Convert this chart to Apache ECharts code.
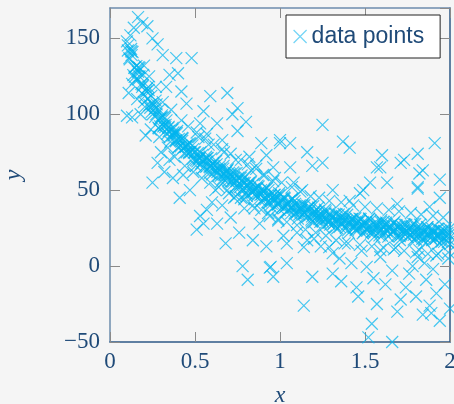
<!DOCTYPE html>
<html>
<head>
<meta charset="utf-8">
<script src="https://cdn.jsdelivr.net/npm/echarts@6/dist/echarts.min.js"></script>
<style>
html,body{margin:0;padding:0;background:#f5f5f5;}
#chart{width:454px;height:404px;}
</style>
</head>
<body>
<div id="chart"></div>
<script>
// ---- data ----
const seriesName = 'data points';
const xTicks = [0, 0.5, 1, 1.5, 2];
const yTicks = [-50, 0, 50, 100, 150];

const bandPoints = [
[0.100,148],[0.114,137],[0.127,139],[0.132,141],[0.146,131],[0.151,123],[0.168,131],[0.173,125],[0.189,118],[0.195,126],
[0.200,108],[0.214,115],[0.227,116],[0.232,106],[0.246,107],[0.251,100],[0.268,109],[0.273,100],[0.289,103],[0.295,92],
[0.300,98],[0.314,92],[0.327,93],[0.332,96],[0.346,89],[0.351,85],[0.368,91],[0.373,88],[0.389,83],[0.395,89],
[0.400,78],[0.414,83],[0.427,84],[0.432,78],[0.446,79],[0.451,75],[0.468,81],[0.473,75],[0.489,77],[0.495,70],
[0.500,75],[0.514,69],[0.527,71],[0.532,75],[0.546,69],[0.551,65],[0.568,71],[0.573,69],[0.589,65],[0.595,71],
[0.600,60.5],[0.614,66],[0.627,67],[0.632,62],[0.646,63],[0.651,59.5],[0.668,66],[0.673,60],[0.689,63],[0.695,56],
[0.700,61.5],[0.714,56],[0.727,58],[0.732,61],[0.746,56],[0.751,52],[0.768,58],[0.773,56],[0.789,52],[0.795,58.5],
[0.800,48],[0.814,53],[0.827,55],[0.832,49],[0.846,50.5],[0.851,47],[0.868,53],[0.873,48],[0.889,50],[0.895,43.5],
[0.900,49.5],[0.914,44],[0.927,46.4],[0.932,50],[0.946,44],[0.951,41],[0.968,47],[0.973,45],[0.989,41],[0.995,48],
[1.000,37],[1.014,43],[1.027,44.5],[1.032,39],[1.046,40.7],[1.051,37.3],[1.068,44],[1.073,38.5],[1.089,41],[1.095,34.7],
[1.100,39.5],[1.114,34],[1.127,36.8],[1.132,40.5],[1.146,35],[1.151,31.8],[1.168,38.4],[1.173,36],[1.189,32.7],[1.195,39.4],
[1.200,29],[1.214,34.7],[1.227,36.4],[1.232,31],[1.246,32.8],[1.251,29.5],[1.268,36],[1.273,31],[1.289,33.6],[1.295,27.3],
[1.300,33],[1.314,27.8],[1.327,30.5],[1.332,34.2],[1.346,29],[1.351,25.8],[1.368,32.5],[1.373,30.2],[1.389,27],[1.395,33.8],
[1.400,23.5],[1.414,29.3],[1.427,31.1],[1.432,25.9],[1.446,27.7],[1.451,24.5],[1.468,31.3],[1.473,26.1],[1.489,28.9],[1.495,22.7],
[1.500,28.5],[1.514,23.4],[1.527,26.2],[1.532,30],[1.546,24.9],[1.551,21.8],[1.568,28.6],[1.573,26.5],[1.589,23.3],[1.595,30.2],
[1.600,20],[1.614,25.9],[1.627,27.8],[1.632,22.6],[1.646,24.5],[1.651,21.4],[1.668,28.3],[1.673,23.1],[1.689,26],[1.695,19.9],
[1.700,25.8],[1.714,20.7],[1.727,23.5],[1.732,27.4],[1.746,22.3],[1.751,19.1],[1.768,26],[1.773,23.9],[1.789,20.8],[1.795,27.6],
[1.800,17.5],[1.814,23.4],[1.827,25.2],[1.832,20],[1.846,21.9],[1.851,18.8],[1.868,25.6],[1.873,20.5],[1.889,23.3],[1.895,17.2],
[1.900,23],[1.914,17.9],[1.927,20.7],[1.932,24.5],[1.946,19.4],[1.951,16.2],[1.968,23.1],[1.973,21],[1.989,17.8],[1.995,24.6],
[2.000,14.5]
];

const bandPoints2 = [
[0.105,142],[0.125,141.5],[0.145,124.6],[0.165,128],[0.185,120],[0.205,112],[0.225,118],[0.245,101.6],[0.265,103.8],[0.285,91.2],
[0.305,99.3],[0.325,91.5],[0.345,91.7],[0.365,86.2],[0.385,87.8],[0.405,78.5],[0.425,82.5],[0.445,78.5],[0.465,74.5],[0.485,79.5],
[0.505,69.6],[0.525,72],[0.545,64.4],[0.565,72],[0.585,65.6],[0.605,67.2],[0.625,63],[0.645,65.8],[0.665,57.6],[0.685,62.4],
[0.705,59.2],[0.725,55.8],[0.745,61.4],[0.765,52.1],[0.785,54.9],[0.805,47.7],[0.825,55.5],[0.845,49.3],[0.865,51.1],[0.885,46.9],
[0.905,50.3],[0.925,42.1],[0.945,47],[0.965,44],[0.985,41],[1.005,47.1],[1.025,38.3],[1.045,41.5],[1.065,34.7],[1.085,42.9],
[1.105,36.3],[1.125,38.6],[1.145,35],[1.165,38.3],[1.185,30.6],[1.205,35.9],[1.225,33.3],[1.245,30.7],[1.265,37.1],[1.285,28.5],
[1.305,31.9],[1.325,25.4],[1.345,33.9],[1.365,28.4],[1.385,30.9],[1.405,27.4],[1.425,31],[1.445,23.6],[1.465,29.2],[1.485,26.8],
[1.505,24.4],[1.525,31.1],[1.545,22.8],[1.565,26.5],[1.585,20.2],[1.605,28.9],[1.625,23.7],[1.645,26.5],[1.665,23.2],[1.685,27],
[1.705,19.7],[1.725,25.5],[1.745,23.3],[1.765,21],[1.785,27.8],[1.805,19.4],[1.825,23.1],[1.845,16.8],[1.865,25.5],[1.885,20.2],
[1.905,22.9],[1.925,19.6],[1.945,23.3],[1.965,16],[1.985,21.7]
];

const bandPoints3 = [
[0.105,145.4],[0.116,136.2],[0.124,143],[0.137,125.8],[0.143,130.6],[0.155,131.7],[0.166,123.1],[0.174,130.5],[0.187,113.9],[0.193,119.3],
[0.205,104.9],[0.216,116.7],[0.224,110.5],[0.237,104.3],[0.243,112.1],[0.255,106.1],[0.266,98.3],[0.274,106.5],[0.287,90.7],[0.293,96.9],
[0.305,97.9],[0.316,92.6],[0.324,97.7],[0.337,87.2],[0.343,91],[0.355,81.9],[0.366,89.8],[0.374,86],[0.387,82.2],[0.393,87.5],
[0.405,83.8],[0.416,78.9],[0.424,84.4],[0.437,74.3],[0.443,78.5],[0.455,80.1],[0.466,75.2],[0.474,80.7],[0.487,70.6],[0.493,74.8],
[0.505,66.1],[0.516,74.4],[0.524,71],[0.537,67.6],[0.543,73.3],[0.555,70],[0.566,65.4],[0.574,71.2],[0.587,61.4],[0.593,65.9],
[0.605,67.8],[0.616,63.3],[0.624,69.2],[0.637,59.5],[0.643,64.1],[0.655,55.7],[0.666,64.2],[0.674,61],[0.687,57.8],[0.693,63.7],
[0.705,60.5],[0.716,55.9],[0.724,61.7],[0.737,51.9],[0.743,56.4],[0.755,58.3],[0.766,53.8],[0.774,59.7],[0.787,50],[0.793,54.6],
[0.805,46.2],[0.816,54.7],[0.824,51.5],[0.837,48.3],[0.843,54.2],[0.855,51],[0.866,46.5],[0.874,52.4],[0.887,42.7],[0.893,47.5],
[0.905,49.7],[0.916,45.3],[0.924,51.3],[0.937,41.7],[0.943,46.4],[0.955,38.1],[0.966,46.7],[0.974,43.6],[0.987,40.4],[0.993,46.5],
[1.005,43.4],[1.016,39.1],[1.024,45.2],[1.037,35.7],[1.043,40.5],[1.055,42.7],[1.066,38.4],[1.074,44.5],[1.087,35],[1.093,39.8],
[1.105,31.3],[1.116,40],[1.124,37],[1.137,34],[1.143,40.1],[1.155,37.1],[1.166,32.8],[1.174,38.9],[1.187,29.4],[1.193,34.2],
[1.205,36.5],[1.216,32.3],[1.224,38.5],[1.237,29.1],[1.243,34],[1.255,25.9],[1.266,34.7],[1.274,31.8],[1.287,28.9],[1.293,35.1],
[1.305,32.2],[1.316,28],[1.324,34.3],[1.337,24.9],[1.343,29.9],[1.355,32.2],[1.366,28.1],[1.374,34.3],[1.387,25],[1.393,29.9],
[1.405,21.9],[1.416,30.8],[1.424,28],[1.437,25.2],[1.443,31.5],[1.455,28.7],[1.466,24.6],[1.474,30.9],[1.487,21.6],[1.493,26.6],
[1.505,29],[1.516,25],[1.524,31.3],[1.537,22.1],[1.543,27.1],[1.555,19.2],[1.566,28.1],[1.574,25.4],[1.587,22.6],[1.593,29],
[1.605,26.2],[1.616,22.2],[1.624,28.6],[1.637,19.4],[1.643,24.5],[1.655,26.9],[1.666,22.9],[1.674,29.3],[1.687,20.1],[1.693,25.2],
[1.705,17.2],[1.716,26.2],[1.724,23.5],[1.737,20.7],[1.743,27.1],[1.755,24.4],[1.766,20.3],[1.774,26.7],[1.787,17.5],[1.793,22.6],
[1.805,25],[1.816,20.9],[1.824,27.3],[1.837,18],[1.843,23.1],[1.855,15.1],[1.866,24.1],[1.874,21.3],[1.887,18.6],[1.893,24.9],
[1.905,22.2],[1.916,18.1],[1.924,24.5],[1.937,15.2],[1.943,20.3],[1.955,22.7],[1.966,18.7],[1.974,25],[1.987,15.8],[1.993,20.8]
];

const haloPoints = [
[0.13,120],[0.16,110],[0.2,132],[0.23,125],[0.27,118],[0.29,85],[0.31,108],[0.34,78],[0.36,103],[0.38,72],
[0.42,96],[0.44,66],[0.46,92],[0.49,62],[0.51,88],[0.54,58],[0.56,84],[0.59,55],[0.61,80],[0.64,52],
[0.66,77],[0.69,50],[0.71,74],[0.74,46],[0.77,70],[0.79,44],[0.81,67],[0.84,40],[0.86,64],[0.89,37],
[0.91,60],[0.94,33],[0.96,56],[0.99,31],[1.01,55],[1.04,29],[1.07,52],[1.1,27],[1.13,50],[1.15,24],
[1.18,46],[1.21,22],[1.23,45],[1.27,20],[1.29,43],[1.33,17],[1.36,42],[1.4,15],[1.43,40],[1.47,14],
[1.5,39],[1.54,13],[1.57,38],[1.61,12],[1.64,37],[1.67,11],[1.7,36],[1.73,10],[1.77,35],[1.8,9],
[1.83,34],[1.87,8],[1.9,33],[1.93,8],[1.96,32],[1.99,9]
];

const outlierPoints = [
[0.165,164],[0.19,160],[0.22,158],[0.14,157],[0.12,152],[0.25,150],[0.28,146],[0.31,139],[0.39,137],[0.48,137],
[0.40,127],[0.35,126],[0.33,118],[0.45,107],[0.42,115],[0.53,94],[0.59,112],[0.69,114],[0.75,104],[0.63,94],
[0.75,89],[0.57,87],[0.66,83],[0.89,81],[1.0,81],[0.96,65],[0.82,72],[0.86,66],[0.92,73],[0.8,95],[0.72,100],[0.55,102],
[0.11,114],[0.13,98],[0.10,99],[0.21,86],[0.18,100],[0.24,90],[0.25,55],[0.28,68],[0.30,75],[0.32,62],[0.35,70],
[0.37,58],[0.41,45],[0.47,50],[0.43,60],[0.51,24],[0.55,28],[0.57,37],[0.53,33],[0.63,28],[0.60,42],[0.68,15],
[0.66,40],[0.71,32],[0.76,22],[0.78,0],[0.81,-9],[0.84,17],[0.92,13],[0.94,-1],[0.96,-7],[0.88,28],[0.73,45],[0.79,38],
[1.06,65],[1.19,66],[1.25,68],[1.59,65],[1.71,68],[1.84,63],[1.08,55],[1.31,50],[1.53,55],[1.63,55],[1.81,52],
[1.94,45],[1.41,43],[1.69,41],[1.88,39],[1.12,49],[1.47,48],
[1.16,17],[1.24,13],[1.31,8.5],[1.04,15],[1.59,10.5],[1.82,10.5],[1.92,7],
[0.945,-0.5],[1.04,2],[1.19,-7],[1.31,-5],[1.45,-14],[1.66,-3],[1.76,-5],[1.86,-9],[1.92,-18],[1.59,6],[1.51,-0.5],
[1.14,12.5],[1.29,12.5],[1.81,6],
[1.14,-26],[1.54,-38],[1.52,-47],[1.66,-50],[1.84,-32],[1.88,-26],[1.89,-31],[1.94,-36],[1.71,-22],[2.0,-28],
[1.25,93],[1.41,78],[1.91,81],[1.81,74],[1.37,82],[1.73,70],[1.6,73],
[1.0,83],[1.06,81],[1.16,75],[1.57,65],[1.82,61],[1.94,57],[1.81,51],[1.49,50],
[1.02,20],[1.1,22],[1.2,18],[1.35,5],[1.38,15],[1.42,2],[1.48,10],[1.55,-8],[1.62,-12],[1.68,12],[1.74,-14],
[1.78,0],[1.85,2],[1.9,-2],[1.97,-12],[1.99,5],[1.46,-20],[1.36,-10],[1.57,-25],[1.69,-30],[1.8,-20],
[0.52,85],[0.58,80],[0.62,50],[0.67,75],[0.7,48],[0.74,70],[0.77,45],[0.83,63],[0.85,38],[0.9,60],[0.93,35],[0.97,58],[0.99,30]
];

// ---- styles ----
const markerColor = '#00b4ef';
const labelColor = '#1f4a78';
const serif = '"Liberation Serif", "DejaVu Serif", serif';
const crossPath = 'path://M0,0L10,10M10,0L0,10';

const chart = echarts.init(document.getElementById('chart'), null, {renderer: 'canvas'});

const tickStyle = {show: true, inside: true, length: 10, lineStyle: {color: '#8a8a8a', width: 1}};

const option = {
  backgroundColor: '#f5f5f5',
  animation: false,
  grid: {left: 110, right: 4, top: 8, bottom: 62, containLabel: false, outerBoundsMode: 'none'},
  legend: {
    data: [seriesName],
    left: 286, top: 15,
    padding: [9, 16, 9, 7],
    backgroundColor: '#ffffff',
    borderColor: '#222222',
    borderWidth: 1,
    borderRadius: 0,
    icon: crossPath,
    itemWidth: 13, itemHeight: 13,
    itemStyle: {color: 'rgba(0,0,0,0)', borderColor: '#3cc3f2', borderWidth: 1.2},
    textStyle: {fontFamily: '"Liberation Sans", Arial, sans-serif', fontSize: 23, color: labelColor, lineHeight: 25, padding: [0,0,0,0]}
  },
  xAxis: [
    {
      type: 'value', min: 0, max: 2, interval: 0.5, position: 'bottom',
      name: 'x', nameLocation: 'middle', nameGap: 42,
      nameTextStyle: {fontFamily: serif, fontStyle: 'italic', fontSize: 24, color: labelColor},
      axisLine: {show: true, onZero: false, lineStyle: {color: '#2e5886', width: 1.5}},
      axisTick: tickStyle,
      splitLine: {show: false},
      axisLabel: {fontFamily: serif, fontSize: 23, color: labelColor, margin: 8,
        formatter: v => xTicks.indexOf(v) >= 0 ? String(v) : ''}
    },
    {
      type: 'value', min: 0, max: 2, interval: 0.5, position: 'top',
      axisLine: {show: true, onZero: false, lineStyle: {color: '#6d8cad', width: 1.5}},
      axisTick: tickStyle, splitLine: {show: false}, axisLabel: {show: false}
    }
  ],
  yAxis: [
    {
      type: 'value', min: -50, max: 170, interval: 50, position: 'left',
      name: 'y', nameLocation: 'middle', nameGap: 84, nameRotate: 90,
      nameTextStyle: {fontFamily: serif, fontStyle: 'italic', fontSize: 24, color: labelColor},
      axisLine: {show: true, onZero: false, lineStyle: {color: '#6d8cad', width: 1.5}},
      axisTick: tickStyle, splitLine: {show: false},
      axisLabel: {fontFamily: serif, fontSize: 23, color: labelColor, margin: 10, showMaxLabel: false,
        formatter: v => yTicks.indexOf(v) >= 0 ? String(v).replace('-', '\u2212') : ''}
    },
    {
      type: 'value', min: -50, max: 170, interval: 50, position: 'right',
      axisLine: {show: true, onZero: false, lineStyle: {color: '#2e5886', width: 1.5}},
      axisTick: tickStyle, splitLine: {show: false}, axisLabel: {show: false}
    }
  ],
  series: [
    {
      name: seriesName, type: 'scatter', xAxisIndex: 0, yAxisIndex: 0,
      symbol: crossPath, symbolSize: 12, clip: false,
      itemStyle: {color: 'rgba(0,0,0,0)', borderColor: markerColor, borderWidth: 1.2, opacity: 0.72},
      emphasis: {disabled: true},
      data: bandPoints.concat(bandPoints2, bandPoints3, haloPoints, outlierPoints)
    }
  ]
};
chart.setOption(option);
</script>
</body>
</html>
